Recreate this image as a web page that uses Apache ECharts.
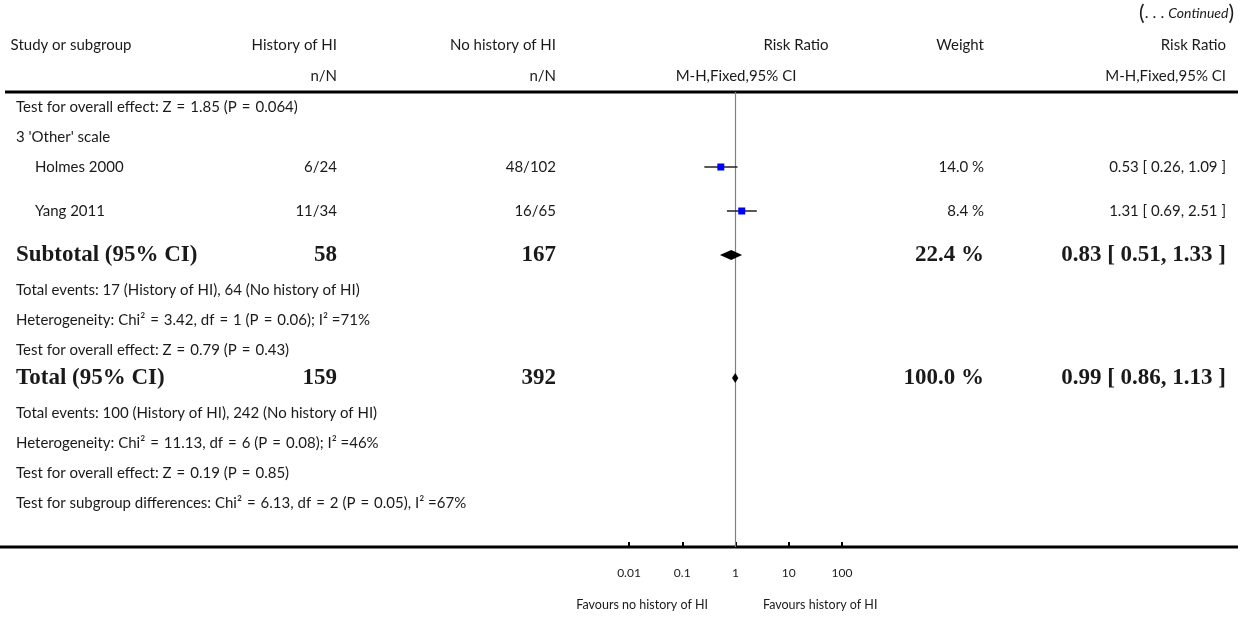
<!DOCTYPE html>
<html>
<head>
<meta charset="utf-8">
<title>Risk Ratio forest plot (continued)</title>
<script src="https://cdn.jsdelivr.net/npm/echarts@6/dist/echarts.min.js"></script>
<style>
  html, body { margin: 0; padding: 0; background: #fff; }
  #chart { width: 1250px; height: 617px; }
</style>
</head>
<body>
<div id="chart"></div>
<script>
// ---- study-level data ----
const studies     = ['Holmes 2000', 'Yang 2011'];
const hiEvents    = [6, 11];
const hiTotals    = [24, 34];
const noEvents    = [48, 16];
const noTotals    = [102, 65];
const weights     = [14.0, 8.4];
const ratios      = [0.53, 1.31];
const ciLow       = [0.26, 0.69];
const ciHigh      = [1.09, 2.51];

// ---- pooled estimates: [subtotal, total] ----
const pooledLabels  = ['Subtotal (95% CI)', 'Total (95% CI)'];
const pooledHiN     = [58, 159];
const pooledNoN     = [167, 392];
const pooledWeights = [22.4, 100.0];
const pooledRatios  = [0.83, 0.99];
const pooledLow     = [0.51, 0.86];
const pooledHigh    = [1.33, 1.13];

// ---- free-text rows ----
const headerNote     = 'Test for overall effect: Z = 1.85 (P = 0.064)';
const subgroupTitle  = "3 'Other' scale";
const subtotalNotes  = [
  'Total events: 17 (History of HI), 64 (No history of HI)',
  'Heterogeneity: Chi\u00B2 = 3.42, df = 1 (P = 0.06); I\u00B2 =71%',
  'Test for overall effect: Z = 0.79 (P = 0.43)'
];
const totalNotes = [
  'Total events: 100 (History of HI), 242 (No history of HI)',
  'Heterogeneity: Chi\u00B2 = 11.13, df = 6 (P = 0.08); I\u00B2 =46%',
  'Test for overall effect: Z = 0.19 (P = 0.85)',
  'Test for subgroup differences: Chi\u00B2 = 6.13, df = 2 (P = 0.05), I\u00B2 =67%'
];

// ---- axis ----
const tickValues  = [0.01, 0.1, 1, 10, 100];
const tickLabels  = ['0.01', '0.1', '1', '10', '100'];
const favourLeft  = 'Favours no history of HI';
const favourRight = 'Favours history of HI';

// ---- layout (pixel rows and columns) ----
const L = {
  ruleTop: 92, axisY: 547,
  headY1: 45, headY2: 76, contY: 13,
  noteY: 107, groupY: 137, studyY: [167, 211], subY: 255,
  subNotesY: [290, 320, 350], totY: 378, totNotesY: [413, 443, 473, 503],
  favY: 605,
  xText: 16, xStudy: 35, colHI: 337, colNo: 556, colW: 984, colRR: 1226,
  plotL: 629, plotR: 842
};

const SANS = 'Lato, "Open Sans", sans-serif';
const SERIF = '"Liberation Serif", "DejaVu Serif", serif';
const INK = '#1a1a1a';
const FS = 15;

// math-style spacing around "=" as typeset in the notes
const mathSpace = s => s.replace(/ = /g, '\u2004=\u2004');
const fmtCI = (r, a, b) => r.toFixed(2) + ' [ ' + a.toFixed(2) + ', ' + b.toFixed(2) + ' ]';

function txt(text, x, y, opt) {
  opt = opt || {};
  return {
    type: 'text',
    silent: true,
    style: {
      text: text, x: x, y: y,
      fill: INK,
      font: (opt.bold ? 'bold ' : '') + (opt.size || FS) + 'px ' + (opt.family || SANS),
      align: opt.align || 'left',
      verticalAlign: 'middle'
    }
  };
}

const graphics = [];

// column headings
graphics.push({
  type: 'text', silent: true,
  style: {
    text: '{p|(}{d|. . . }{c|Continued}{p|)}',
    x: L.colRR + 8, y: L.contY, align: 'right', verticalAlign: 'middle',
    rich: {
      p: { font: '21px ' + SANS, fill: INK },
      d: { font: '16px ' + SANS, fill: INK },
      c: { font: 'italic 14px ' + SANS, fill: INK }
    }
  }
});
graphics.push(txt('Study or subgroup', 71, L.headY1, { align: 'center' }));
graphics.push(txt('History of HI', L.colHI, L.headY1, { align: 'right' }));
graphics.push(txt('n/N', L.colHI, L.headY2, { align: 'right' }));
graphics.push(txt('No history of HI', L.colNo, L.headY1, { align: 'right' }));
graphics.push(txt('n/N', L.colNo, L.headY2, { align: 'right' }));
graphics.push(txt('Risk Ratio', 796, L.headY1, { align: 'center' }));
graphics.push(txt('M-H,Fixed,95% CI', 736, L.headY2, { align: 'center' }));
graphics.push(txt('Weight', L.colW, L.headY1, { align: 'right' }));
graphics.push(txt('Risk Ratio', L.colRR, L.headY1, { align: 'right' }));
graphics.push(txt('M-H,Fixed,95% CI', L.colRR, L.headY2, { align: 'right' }));

// horizontal rules
graphics.push({ type: 'line', silent: true, shape: { x1: 5, y1: L.ruleTop, x2: 1238, y2: L.ruleTop }, style: { stroke: '#000', lineWidth: 3 } });
graphics.push({ type: 'line', silent: true, shape: { x1: 0, y1: L.axisY, x2: 1238, y2: L.axisY }, style: { stroke: '#000', lineWidth: 3 } });

// body rows
graphics.push(txt(mathSpace(headerNote), L.xText, L.noteY));
graphics.push(txt(subgroupTitle, L.xText, L.groupY));
studies.forEach((name, i) => {
  const y = L.studyY[i];
  graphics.push(txt(name, L.xStudy, y));
  graphics.push(txt(hiEvents[i] + '/' + hiTotals[i], L.colHI, y, { align: 'right' }));
  graphics.push(txt(noEvents[i] + '/' + noTotals[i], L.colNo, y, { align: 'right' }));
  graphics.push(txt(weights[i].toFixed(1) + ' %', L.colW, y, { align: 'right' }));
  graphics.push(txt(fmtCI(ratios[i], ciLow[i], ciHigh[i]), L.colRR, y, { align: 'right' }));
});
[L.subY, L.totY].forEach((y, k) => {
  const b = { bold: true, size: 23, family: SERIF };
  graphics.push(txt(pooledLabels[k], L.xText, y, b));
  graphics.push(txt(String(pooledHiN[k]), L.colHI, y, Object.assign({ align: 'right' }, b)));
  graphics.push(txt(String(pooledNoN[k]), L.colNo, y, Object.assign({ align: 'right' }, b)));
  graphics.push(txt(pooledWeights[k].toFixed(1) + ' %', L.colW, y, Object.assign({ align: 'right' }, b)));
  graphics.push(txt(fmtCI(pooledRatios[k], pooledLow[k], pooledHigh[k]), L.colRR, y, Object.assign({ align: 'right' }, b)));
});
subtotalNotes.forEach((t, i) => graphics.push(txt(mathSpace(t), L.xText, L.subNotesY[i])));
totalNotes.forEach((t, i) => graphics.push(txt(mathSpace(t), L.xText, L.totNotesY[i])));

// favours captions
graphics.push(txt(favourLeft, 708, L.favY, { align: 'right', size: 12.5 }));
graphics.push(txt(favourRight, 763, L.favY, { align: 'left', size: 12.5 }));

// marks for the forest plot: [ratio, low, high, rowY, kind]
const markData = [];
studies.forEach((_, i) => markData.push([ratios[i], ciLow[i], ciHigh[i], L.studyY[i], 0]));
markData.push([pooledRatios[0], pooledLow[0], pooledHigh[0], L.subY, 1]);
markData.push([pooledRatios[1], pooledLow[1], pooledHigh[1], L.totY, 1]);

function renderMark(params, api) {
  const y = api.value(3);
  const c = api.coord([api.value(0), y]);
  const a = api.coord([api.value(1), y]);
  const b = api.coord([api.value(2), y]);
  if (api.value(4) === 0) {
    const s = 7;
    return {
      type: 'group',
      children: [
        { type: 'line', shape: { x1: a[0], y1: a[1], x2: b[0], y2: b[1] }, style: { stroke: '#222', lineWidth: 1.5 } },
        { type: 'rect', shape: { x: c[0] - s / 2, y: c[1] - s / 2, width: s, height: s }, style: { fill: '#0000ff' } }
      ]
    };
  }
  const h = 5;
  return {
    type: 'polygon',
    shape: { points: [[a[0], a[1]], [c[0], c[1] - h], [b[0], b[1]], [c[0], c[1] + h]] },
    style: { fill: '#000' }
  };
}

const chart = echarts.init(document.getElementById('chart'), null, { renderer: 'canvas' });
chart.setOption({
  animation: false,
  backgroundColor: '#fff',
  grid: { left: L.plotL, right: 1250 - L.plotR, top: L.ruleTop, bottom: 617 - L.axisY, containLabel: false },
  xAxis: {
    type: 'log', logBase: 10, min: 0.01, max: 100,
    axisLine: { show: false },
    axisTick: { show: true, inside: true, length: 5, lineStyle: { color: '#000', width: 2 } },
    minorTick: { show: false },
    splitLine: { show: false },
    axisLabel: {
      margin: 20, fontSize: 12, fontFamily: SANS, color: INK,
      formatter: v => {
        const i = tickValues.findIndex(t => Math.abs(Math.log10(t) - Math.log10(v)) < 1e-6);
        return i >= 0 ? tickLabels[i] : '';
      }
    }
  },
  yAxis: { type: 'value', min: L.ruleTop, max: L.axisY, inverse: true, show: false },
  series: [
    {
      type: 'line', silent: true, symbol: 'none',
      data: [[1, L.ruleTop], [1, L.axisY]],
      lineStyle: { color: '#808080', width: 1.2 }, z: 1
    },
    {
      type: 'custom', silent: true,
      renderItem: renderMark,
      encode: { x: 0, y: 3 },
      data: markData, z: 3
    }
  ],
  graphic: graphics
});
</script>
</body>
</html>
